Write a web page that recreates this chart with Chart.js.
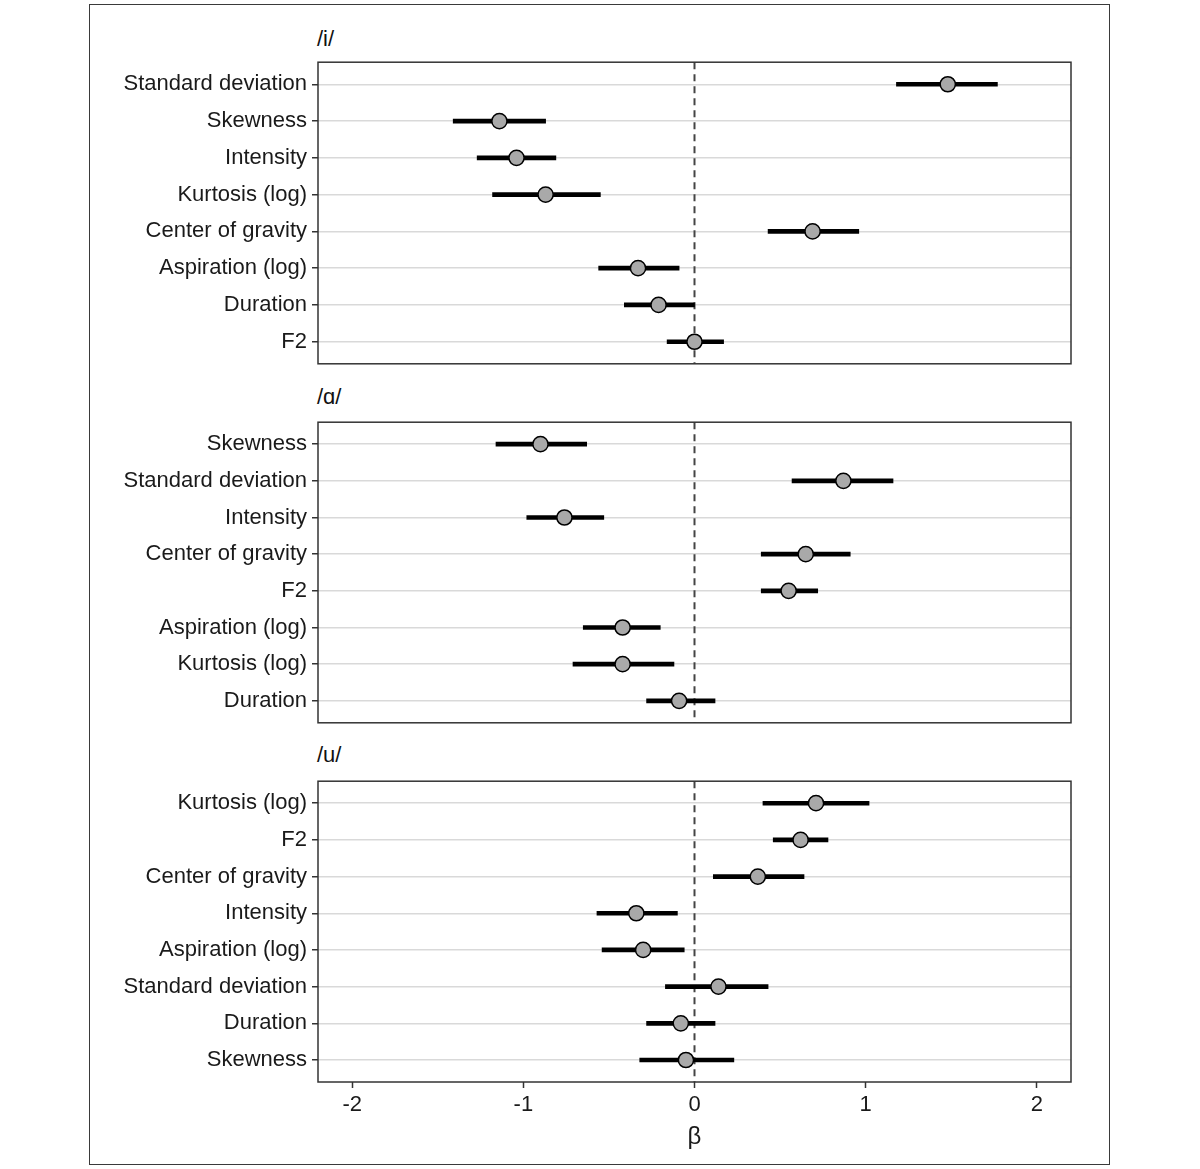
<!DOCTYPE html>
<html>
<head>
<meta charset="utf-8">
<script src="https://cdn.jsdelivr.net/npm/chart.js@4.4.1/dist/chart.umd.min.js"></script>
<style>
  html, body { margin: 0; padding: 0; background: #fff; }
  #wrap { position: relative; width: 1200px; height: 1169px; background: #fff; overflow: hidden; }
  #frame { position: absolute; left: 89px; top: 4px; width: 1021px; height: 1161px; box-sizing: border-box; border: 1.5px solid #3a3a3a; }
  canvas { position: absolute; left: 0; }
  .ptitle { position: absolute; left: 317px; font-family: 'Liberation Sans', 'DejaVu Sans', Arial, sans-serif; font-size: 22px; line-height: 26px; color: #111; white-space: nowrap; }
</style>
</head>
<body>
<div id="wrap">
  <div id="frame"></div>
  <div class="ptitle" id="t0" style="top:26px"></div>
  <div class="ptitle" id="t1" style="top:384px"></div>
  <div class="ptitle" id="t2" style="top:742px"></div>
  <canvas id="c0" width="1200" height="338" style="top:44px"></canvas>
  <canvas id="c1" width="1200" height="337" style="top:404px"></canvas>
  <canvas id="c2" width="1200" height="391" style="top:763px"></canvas>
</div>
<script>
// ---- data ----
const panelTitles = ['/i/', '/\u0251/', '/u/'];

const labelsI = ['Standard deviation', 'Skewness', 'Intensity', 'Kurtosis (log)', 'Center of gravity', 'Aspiration (log)', 'Duration', 'F2'];
const estI = [1.48, -1.14, -1.04, -0.87, 0.69, -0.33, -0.21, 0.00];
const loI  = [1.18, -1.41, -1.27, -1.18, 0.43, -0.56, -0.41, -0.16];
const hiI  = [1.77, -0.87, -0.81, -0.55, 0.96, -0.09, 0.00, 0.17];

const labelsA = ['Skewness', 'Standard deviation', 'Intensity', 'Center of gravity', 'F2', 'Aspiration (log)', 'Kurtosis (log)', 'Duration'];
const estA = [-0.90, 0.87, -0.76, 0.65, 0.55, -0.42, -0.42, -0.09];
const loA  = [-1.16, 0.57, -0.98, 0.39, 0.39, -0.65, -0.71, -0.28];
const hiA  = [-0.63, 1.16, -0.53, 0.91, 0.72, -0.20, -0.12, 0.12];

const labelsU = ['Kurtosis (log)', 'F2', 'Center of gravity', 'Intensity', 'Aspiration (log)', 'Standard deviation', 'Duration', 'Skewness'];
const estU = [0.71, 0.62, 0.37, -0.34, -0.30, 0.14, -0.08, -0.05];
const loU  = [0.40, 0.46, 0.11, -0.57, -0.54, -0.17, -0.28, -0.32];
const hiU  = [1.02, 0.78, 0.64, -0.10, -0.06, 0.43, 0.12, 0.23];

const xTickValues = [-2, -1, 0, 1, 2];
const xMin = -2.2, xMax = 2.2;
const refValue = 0;
const xAxisTitle = '\u03B2';

// ---- drawing ----
const FONT = "'Liberation Sans', 'DejaVu Sans', Arial, sans-serif";
const panels = [
  { labels: labelsI, est: estI, lo: loI, hi: hiI },
  { labels: labelsA, est: estA, lo: loA, hi: hiA },
  { labels: labelsU, est: estU, lo: loU, hi: hiU }
];

const panelBorder = {
  id: 'panelBorder',
  afterDraw(chart) {
    const { ctx, chartArea: a } = chart;
    ctx.save();
    ctx.strokeStyle = '#333';
    ctx.lineWidth = 1.5;
    ctx.strokeRect(a.left, a.top, a.right - a.left, a.bottom - a.top);
    ctx.restore();
  }
};

panels.forEach((p, k) => {
  document.getElementById('t' + k).textContent = panelTitles[k];
  const isLast = k === panels.length - 1;
  const n = p.labels.length;
  new Chart(document.getElementById('c' + k), {
    type: 'scatter',
    data: {
      datasets: [
        {
          type: 'line',
          data: [{ x: refValue, y: 0.4 }, { x: refValue, y: n + 0.6 }],
          borderColor: '#444',
          borderWidth: 2,
          borderDash: [7, 5],
          pointRadius: 0,
          order: 3
        },
        {
          type: 'bar',
          indexAxis: 'y',
          data: p.labels.map((_, i) => ({ x: [p.lo[i], p.hi[i]], y: i + 1 })),
          backgroundColor: '#000',
          borderWidth: 0,
          barThickness: 4,
          order: 2
        },
        {
          type: 'scatter',
          data: p.labels.map((_, i) => ({ x: p.est[i], y: i + 1 })),
          backgroundColor: '#a9a9a9',
          borderColor: '#000',
          borderWidth: 1.5,
          pointRadius: 7.6,
          order: 1
        }
      ]
    },
    options: {
      responsive: false,
      animation: false,
      devicePixelRatio: 1,
      events: [],
      layout: { padding: { left: 0, right: 129, top: 10, bottom: isLast ? 0 : 10 } },
      plugins: { legend: { display: false }, tooltip: { enabled: false } },
      scales: {
        x: {
          type: 'linear',
          min: xMin,
          max: xMax,
          offset: false,
          display: isLast,
          afterBuildTicks: (s) => { s.ticks = xTickValues.map(v => ({ value: v })); },
          afterFit: (s) => { if (isLast) s.height = 72; },
          grid: { offset: false, drawOnChartArea: false, drawTicks: true, tickLength: 6, tickColor: '#333', tickWidth: 1.5 },
          border: { display: false },
          ticks: { color: '#1a1a1a', font: { family: FONT, size: 22 }, padding: 4, maxRotation: 0 },
          title: { display: true, text: xAxisTitle, color: '#1a1a1a', font: { family: FONT, size: 24 }, padding: { top: 0, bottom: 2 } }
        },
        y: {
          type: 'linear',
          min: 0.4,
          max: n + 0.6,
          reverse: true,
          offset: false,
          afterBuildTicks: (s) => { s.ticks = p.labels.map((_, i) => ({ value: i + 1 })); },
          afterFit: (s) => { s.width = 318; },
          grid: { offset: false, color: '#d9d9d9', lineWidth: 1.5, drawTicks: true, tickLength: 6, tickColor: '#333', tickWidth: 1.5 },
          border: { display: false },
          ticks: {
            autoSkip: false,
            color: '#1a1a1a',
            font: { family: FONT, size: 22 },
            padding: 5,
            callback: (v) => p.labels[Math.round(v) - 1]
          }
        }
      }
    },
    plugins: [panelBorder]
  });
});
</script>
</body>
</html>
